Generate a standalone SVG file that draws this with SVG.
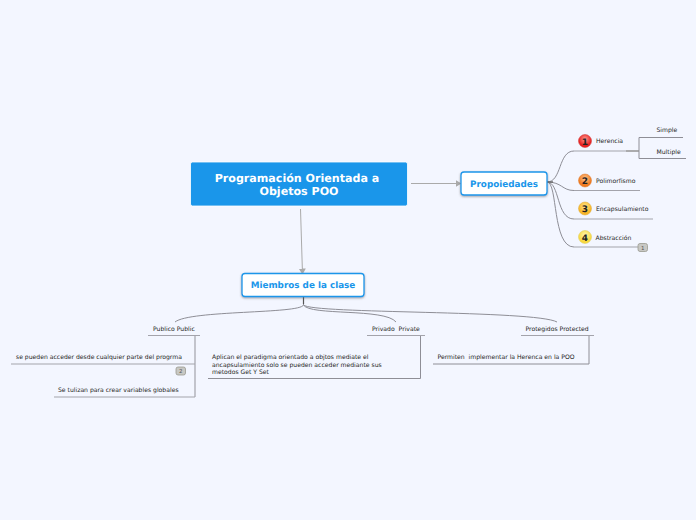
<svg xmlns="http://www.w3.org/2000/svg" width="696" height="520" viewBox="0 0 696 520">
<defs>
<style>
text{font-family:"DejaVu Sans",sans-serif;text-rendering:geometricPrecision}
.c{fill:none;stroke:#8e8e96;stroke-width:1}
.u{fill:none;stroke:#a3a3ab;stroke-width:1.2}
.t{font-size:6.1px;fill:#1e1e24}
.b{font-size:8.8px;font-weight:bold;fill:#1a96ea;text-anchor:middle}
.box{fill:#fff;stroke:#1a96ea;stroke-width:1.3;filter:url(#s)}
.n{font-size:9px;font-weight:bold;fill:#222;text-anchor:middle}
.tag{fill:#c8c8c4;stroke:#99998f;stroke-width:.8}
.tn{font-size:5.5px;fill:#555;text-anchor:middle}
</style>
<filter id="s" x="-10%" y="-20%" width="120%" height="150%"><feDropShadow dx="0" dy="1" stdDeviation="0.8" flood-color="#555" flood-opacity=".55"/></filter>
<marker id="a" markerWidth="6" markerHeight="7" refX="5.5" refY="3.5" orient="auto"><path d="M0 0L6 3.5L0 7Z" fill="#aaa"/></marker>
<radialGradient id="g1" cy=".35"><stop offset="0" stop-color="#ff9a90"/><stop offset="1" stop-color="#e82020"/></radialGradient>
<radialGradient id="g2" cy=".35"><stop offset="0" stop-color="#ffc890"/><stop offset="1" stop-color="#f07a20"/></radialGradient>
<radialGradient id="g3" cy=".35"><stop offset="0" stop-color="#ffe890"/><stop offset="1" stop-color="#f8b528"/></radialGradient>
<radialGradient id="g4" cy=".35"><stop offset="0" stop-color="#fff5b0"/><stop offset="1" stop-color="#f8d840"/></radialGradient>
</defs>
<rect width="696" height="520" fill="#f3f6ff"/>
<g id="connectors">
<path d="M411 183.500H461" stroke="#aaa" stroke-width="1" fill="none" marker-end="url(#a)"/>
<path d="M300.500 209L302.500 274" stroke="#aaa" stroke-width="1" fill="none" marker-end="url(#a)"/>
<path class="c" d="M547 182C562 182 558 151 574 151M547 182C562 182 562 190.500 574 190.500M547 182C560 182 556 219 574 219M547 182C558 182 552 247 574 247"/>
<path d="M547 182H553" stroke="#666" stroke-width="1.4"/>
<path class="u" d="M574 151H626M574 190.500H640M574 219H653M574 247H638"/>
<path d="M626 151H639" stroke="#999" stroke-width="1.6"/>
<path class="c" d="M639 137.500V158.500M639 137.500H683M639 158.500H686"/>
<path class="c" d="M303.500 297V305M303.500 305C300 314 190 310 175 322M303.500 305C310 316 385 308 396 322M303.500 305C312 314 535 310 557 322"/>
<path d="M303.500 297V304" stroke="#555" stroke-width="1.2"/>
<path class="u" d="M148 335.500H200M367 335.500H425M521 335.500H594"/>
<path class="u" d="M195 336V397M11 364H195M54 397H195"/>
<path class="c" d="M420.500 336V378.500H208"/>
<path class="c" d="M589 336V364H433"/>
</g>
<g id="root"><rect x="190.500" y="162" width="217" height="44" rx="2" fill="#1a96ea" stroke="#fff" stroke-width=".8"/><text x="297" y="182" font-size="11.100" font-weight="bold" fill="#fff" text-anchor="middle">Programación Orientada a</text><text x="299" y="195" font-size="11.100" font-weight="bold" fill="#fff" text-anchor="middle">Objetos POO</text></g>
<g id="propiedades"><rect class="box" x="461" y="172" width="86" height="23" rx="3"/><text class="b" x="504" y="187">Propoiedades</text></g>
<g id="miembros"><rect class="box" x="242" y="273.500" width="122" height="23" rx="3"/><text class="b" x="303" y="288">Miembros de la clase</text></g>
<g id="herencia"><circle cx="585" cy="141" r="6.500" fill="url(#g1)" stroke="#c33" stroke-width=".5"/><text class="n" x="585" y="144.500">1</text><text class="t" x="596" y="143">Herencia</text></g>
<g id="polimorfismo"><circle cx="585" cy="180.500" r="6.500" fill="url(#g2)" stroke="#d72" stroke-width=".5"/><text class="n" x="585" y="184">2</text><text class="t" x="596" y="183">Polimorfismo</text></g>
<g id="encapsulamiento"><circle cx="585" cy="208.500" r="6.500" fill="url(#g3)" stroke="#da3" stroke-width=".5"/><text class="n" x="585" y="212">3</text><text class="t" x="596" y="211">Encapsulamiento</text></g>
<g id="abstraccion"><circle cx="585" cy="237" r="6.500" fill="url(#g4)" stroke="#dc5" stroke-width=".5"/><text class="n" x="585" y="240.500">4</text><text class="t" x="595.500" y="240">Abstracción</text><rect class="tag" x="638" y="243.500" width="9.500" height="8" rx="2"/><text class="tn" x="642.800" y="249.500">1</text></g>
<g id="simple"><text class="t" x="656.500" y="132">Simple</text></g>
<g id="multiple"><text class="t" x="656.500" y="154">Multiple</text></g>
<g id="publico"><text class="t" x="153" y="331">Publico Public</text></g>
<g id="publico-1"><text class="t" x="16" y="359">se pueden acceder desde cualquier parte del progrma</text><rect class="tag" x="176" y="367" width="9.500" height="8" rx="2"/><text class="tn" x="180.800" y="373">2</text></g>
<g id="publico-2"><text class="t" x="58" y="392">Se tulizan para crear variables globales</text></g>
<g id="privado"><text class="t" x="372" y="331" xml:space="preserve">Privado  Private</text></g>
<g id="privado-1"><text class="t" x="212" y="359">Aplican el paradigma orientado a objtos mediate el</text><text class="t" x="212" y="367">ancapsulamiento solo se pueden acceder mediante sus</text><text class="t" x="212" y="374">metodos Get Y Set</text></g>
<g id="protegidos"><text class="t" x="525.500" y="331">Protegidos Protected</text></g>
<g id="protegidos-1"><text class="t" x="437.500" y="359" xml:space="preserve">Permiten  implementar la Herenca en la POO</text></g>
</svg>
